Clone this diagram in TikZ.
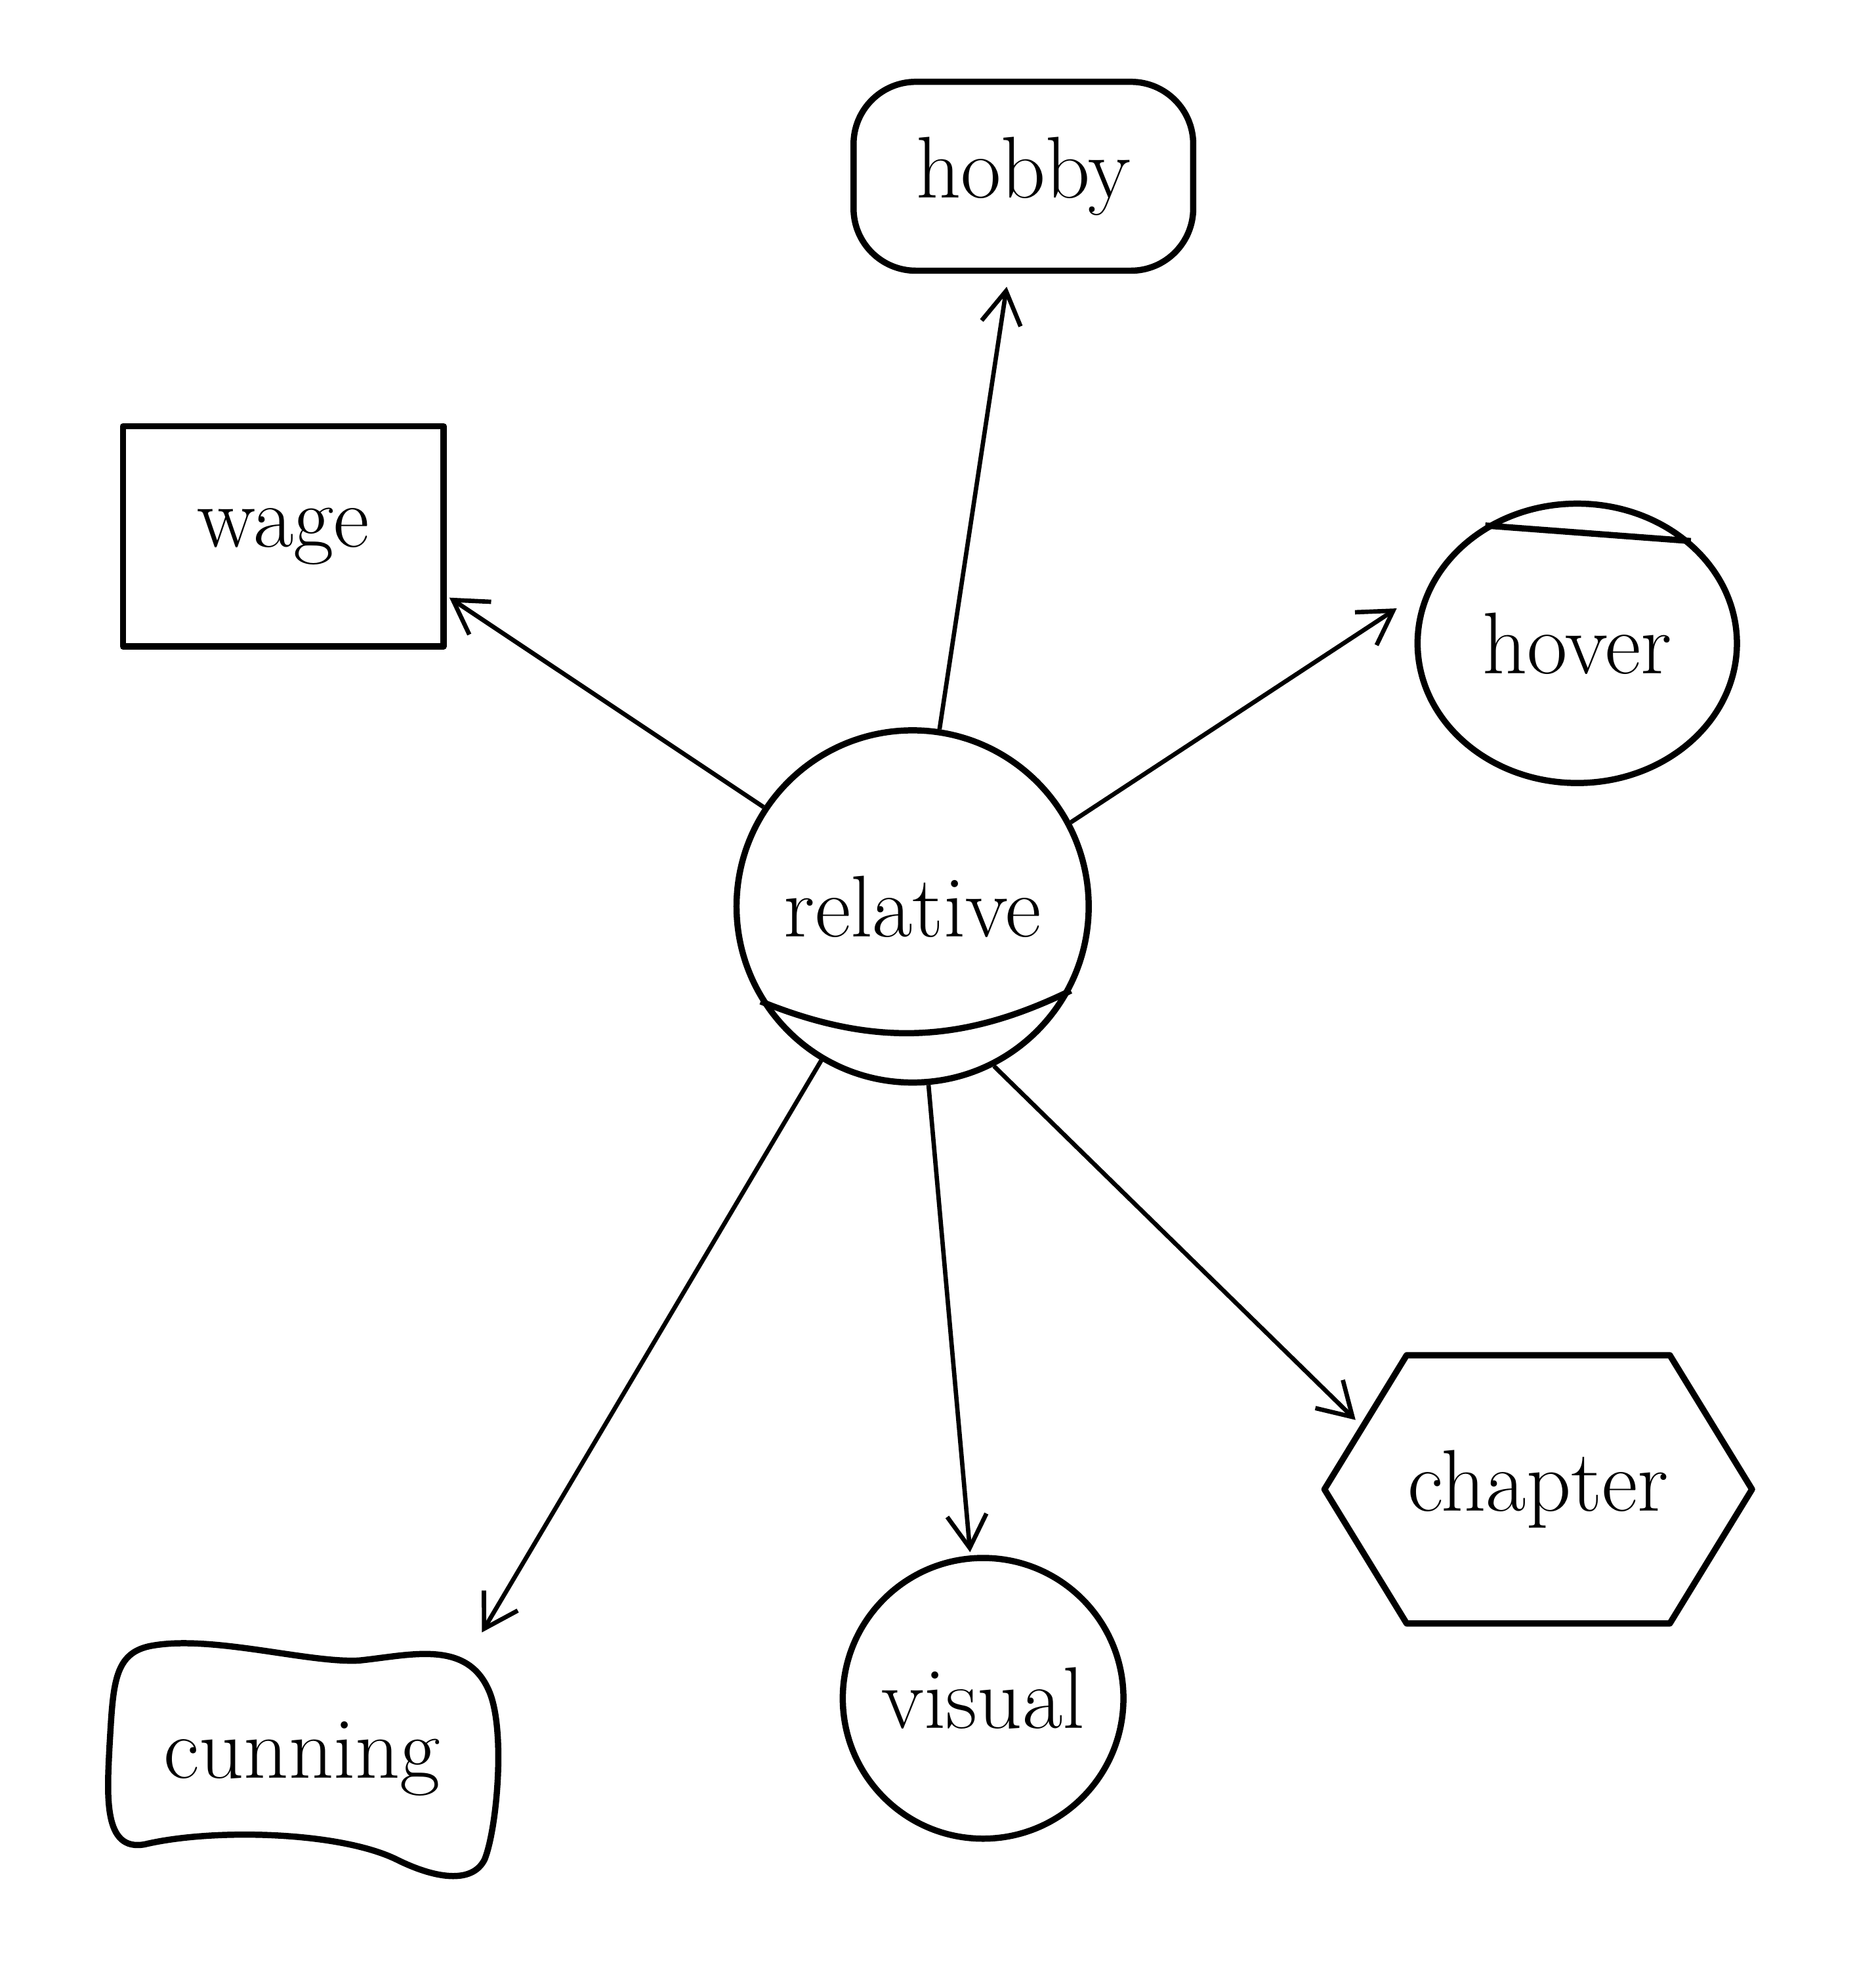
\documentclass[tikz,border=0pt]{standalone}
\usetikzlibrary{arrows.meta,shapes.geometric,shapes.symbols}

\begin{document}
\begin{tikzpicture}[x=0.01919cm, y=-0.01919cm,
    trazo/.style={line width=2.7pt, line join=round},
    caja/.style={trazo, draw, inner sep=0pt, font=\fontsize{38}{42}\selectfont},
    flecha/.style={line width=1.9pt, -{Straight Barb[length=5mm,width=6mm]}}]

\useasboundingbox (0,0) rectangle (1490,1568);

% Nodos
\node[caja, circle, minimum size=5.37cm] (rel) at (725,720) {relative};
\draw[trazo] (rel.212) to[bend right=24] (rel.-28);

\node[caja, rectangle, rounded corners=0.95cm, minimum width=5.18cm, minimum height=2.88cm] (hobby) at (813,140) {hobby};
\node[caja, rectangle, minimum width=4.89cm, minimum height=3.36cm] (wage) at (225,426) {wage};
\node[caja, ellipse, minimum width=4.87cm, minimum height=4.26cm] (hover) at (1253,511) {hover};
\draw[trazo] (hover.128) -- (hover.42);
\node[caja, signal, signal to=east and west, signal pointer angle=117, minimum width=6.52cm, minimum height=4.09cm] (chapter) at (1222,1183) {chapter};
\node[caja, circle, minimum size=4.28cm] (visual) at (781,1349) {visual};
\node[caja, draw=none, minimum width=5.8cm, minimum height=3.5cm] (cunning) at (240,1397) {cunning};
\draw[trazo, shift={(cunning.center)}] (-118,-90)
	.. controls (-70,-98) and (5,-76) .. (45,-78)
	.. controls (85,-82) and (130,-95) .. (148,-55)
	.. controls (162,-25) and (155,55) .. (145,80)
	.. controls (135,100) and (105,95) .. (75,80)
	.. controls (30,58) and (-70,55) .. (-125,68)
	.. controls (-158,74) and (-155,30) .. (-153,-10)
	.. controls (-150,-60) and (-150,-85) .. cycle;

% Flechas
\foreach \ini/\fin/\corte in {rel/hobby/0.2, rel/wage.-20/0.05, rel.28/hover.160/0.55, rel.-63/chapter.160/0.1, rel/visual/0.05, rel/cunning.34/0.15}
	\draw[flecha, shorten >=\corte cm] (\ini) -- (\fin);
\end{tikzpicture}
\end{document}
